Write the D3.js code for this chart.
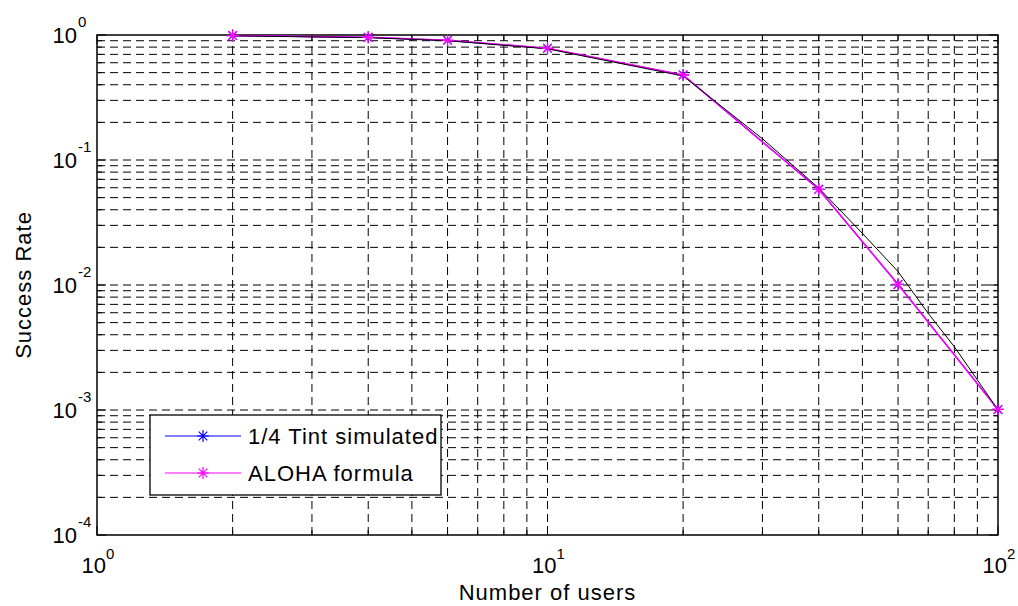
<!DOCTYPE html>
<html>
<head>
<meta charset="utf-8">
<script src="https://cdn.jsdelivr.net/npm/d3@7"></script>
<style>
  html, body { margin: 0; padding: 0; background: #fff; }
  svg { display: block; font-family: Arial, "Liberation Sans", sans-serif; }
</style>
</head>
<body>
<svg id="chart" width="1018" height="606"></svg>
<script>
// ---- data ----
const users = [2, 4, 6, 10, 20, 40, 60, 100];
const simulated = [0.99, 0.958, 0.907, 0.783, 0.479, 0.0583, 0.0101, 0.00101];
const aloha = [0.99, 0.958, 0.907, 0.783, 0.479, 0.0583, 0.0101, 0.00101];
const refUsers = [2, 4, 6, 10, 20, 30, 40, 50, 60, 70, 80, 90, 100];
const refValues = [0.985, 0.952, 0.90, 0.775, 0.47, 0.148, 0.0597, 0.0259, 0.0128, 0.00593, 0.00321, 0.00174, 0.001];
const xTickExps = [0, 1, 2];
const yTickExps = [0, -1, -2, -3, -4];
const legendLabels = ["1/4 Tint simulated", "ALOHA formula"];
const seriesColors = ["#0000ff", "#ff00ff"];

// ---- layout ----
const L = 97, R = 998, T = 35, B = 535;
const svg = d3.select("#chart");
const x = d3.scaleLog().domain([1, 100]).range([L, R]);
const y = d3.scaleLog().domain([1e-4, 1]).range([B, T]);

const xGrid = [];
for (let e = 0; e < 2; e++) for (let m = 1; m <= 9; m++) xGrid.push(m * Math.pow(10, e));
xGrid.push(100);
const yGrid = [];
for (let e = -4; e < 0; e++) for (let m = 1; m <= 9; m++) yGrid.push(m * Math.pow(10, e));
yGrid.push(1);

// grid
const grid = svg.append("g").attr("stroke", "#000").attr("stroke-width", 1).attr("stroke-dasharray", "8,5").attr("fill", "none");
xGrid.filter(v => v > 1 && v < 100).forEach(v => {
  grid.append("line").attr("x1", x(v)).attr("x2", x(v)).attr("y1", B).attr("y2", T);
});
yGrid.filter(v => v > 1e-4 && v < 1).forEach(v => {
  grid.append("line").attr("x1", L).attr("x2", R).attr("y1", y(v)).attr("y2", y(v));
});

// ticks (inward, all four sides)
const ticks = svg.append("g").attr("stroke", "#000").attr("stroke-width", 1);
const isMajor = v => Math.abs(Math.log10(v) - Math.round(Math.log10(v))) < 1e-9;
xGrid.forEach(v => {
  const len = isMajor(v) ? 9 : 5;
  ticks.append("line").attr("x1", x(v)).attr("x2", x(v)).attr("y1", B).attr("y2", B - len);
  ticks.append("line").attr("x1", x(v)).attr("x2", x(v)).attr("y1", T).attr("y2", T + len);
});
yGrid.forEach(v => {
  const len = isMajor(v) ? 9 : 5;
  ticks.append("line").attr("x1", L).attr("x2", L + len).attr("y1", y(v)).attr("y2", y(v));
  ticks.append("line").attr("x1", R).attr("x2", R - len).attr("y1", y(v)).attr("y2", y(v));
});

// axes box
svg.append("rect").attr("x", L).attr("y", T).attr("width", R - L).attr("height", B - T)
  .attr("fill", "none").attr("stroke", "#000").attr("stroke-width", 1.5);

// tick labels
const FS = 22, SFS = 15;
xTickExps.forEach(e => {
  const t = svg.append("text").attr("x", x(Math.pow(10, e)) + 1).attr("y", 573)
    .attr("text-anchor", "middle").attr("font-size", FS).attr("fill", "#000");
  t.append("tspan").text("10");
  t.append("tspan").attr("font-size", SFS).attr("dy", -14).text(String(e));
});
yTickExps.forEach(e => {
  svg.append("text").attr("x", 77).attr("y", y(Math.pow(10, e)) + 8)
    .attr("text-anchor", "end").attr("font-size", FS).attr("fill", "#000").text("10");
  svg.append("text").attr("x", 78).attr("y", y(Math.pow(10, e)) - 8)
    .attr("text-anchor", "start").attr("font-size", SFS).attr("fill", "#000").text(String(e));
});

// axis labels
svg.append("text").attr("x", (L + R) / 2).attr("y", 600).attr("text-anchor", "middle")
  .attr("font-size", FS).attr("letter-spacing", 1).attr("fill", "#000").text("Number of users");
svg.append("text").attr("transform", `translate(31,${(T + B) / 2}) rotate(-90)`)
  .attr("text-anchor", "middle").attr("font-size", FS).attr("letter-spacing", 1).attr("fill", "#000").text("Success Rate");

// lines
const line = d3.line().x(d => x(d[0])).y(d => y(d[1]));
const simPts = users.map((u, i) => [u, simulated[i]]);
const alohaPts = users.map((u, i) => [u, aloha[i]]);
const refPts = refUsers.map((u, i) => [u, refValues[i]]);

function star(g, cx, cy, color) {
  const a = 6, b = 4.3;
  g.append("path")
    .attr("d", `M${cx - a},${cy}L${cx + a},${cy}M${cx},${cy - a}L${cx},${cy + a}M${cx - b},${cy - b}L${cx + b},${cy + b}M${cx - b},${cy + b}L${cx + b},${cy - b}`)
    .attr("stroke", color).attr("stroke-width", 1.2).attr("fill", "none");
}

const plot = svg.append("g");
plot.append("path").datum(simPts).attr("d", line).attr("fill", "none").attr("stroke", seriesColors[0]).attr("stroke-width", 1.2);
simPts.forEach(p => star(plot, x(p[0]), y(p[1]), seriesColors[0]));
plot.append("path").datum(alohaPts).attr("d", line).attr("fill", "none").attr("stroke", seriesColors[1]).attr("stroke-width", 1.5);
plot.append("path").datum(refPts).attr("d", line).attr("fill", "none").attr("stroke", "#000").attr("stroke-width", 1);
alohaPts.forEach(p => star(plot, x(p[0]), y(p[1]), seriesColors[1]));

// legend
const lg = svg.append("g");
lg.append("rect").attr("x", 150).attr("y", 415).attr("width", 291).attr("height", 80)
  .attr("fill", "#fff").attr("stroke", "#000").attr("stroke-width", 1.3);
const rowsY = [436, 473];
legendLabels.forEach((lab, i) => {
  lg.append("line").attr("x1", 165).attr("x2", 241).attr("y1", rowsY[i]).attr("y2", rowsY[i])
    .attr("stroke", seriesColors[i]).attr("stroke-width", 1.2);
  star(lg, 203, rowsY[i], seriesColors[i]);
  lg.append("text").attr("x", 248).attr("y", rowsY[i] + 8).attr("font-size", FS)
    .attr("letter-spacing", 1).attr("fill", "#000").text(lab);
});
</script>
</body>
</html>
